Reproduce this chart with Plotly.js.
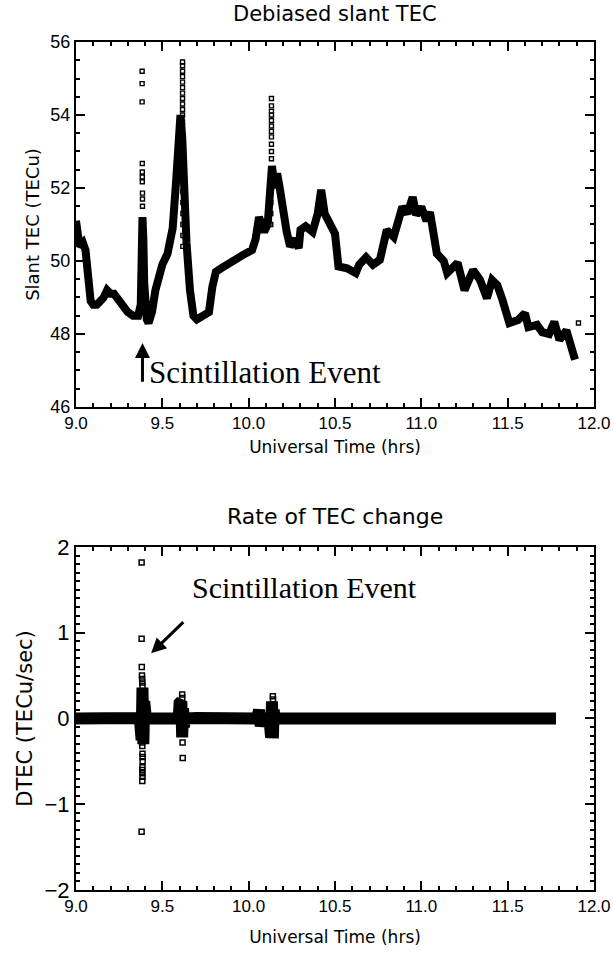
<!DOCTYPE html>
<html>
<head>
<meta charset="utf-8">
<script src="https://cdn.plot.ly/plotly-3.0.1.min.js"></script>
<style>html,body{margin:0;padding:0;background:#fff;}#chart{width:613px;height:955px;}</style>
</head>
<body>
<div id="chart"></div>
<script>
// ---- Debiased slant TEC (thick trace) ----
var tecT = [9.000,9.010,9.020,9.040,9.055,9.070,9.085,9.100,9.120,9.140,9.160,9.180,9.200,9.220,9.250,9.280,9.300,9.330,9.360,9.375,9.380,9.385,9.390,9.395,9.400,9.410,9.420,9.440,9.460,9.480,9.500,9.530,9.560,9.580,9.595,9.605,9.615,9.625,9.640,9.660,9.680,9.700,9.740,9.770,9.790,9.810,9.840,9.870,9.900,9.940,9.980,10.020,10.040,10.060,10.075,10.090,10.110,10.125,10.135,10.150,10.165,10.180,10.200,10.220,10.240,10.270,10.290,10.300,10.330,10.370,10.400,10.420,10.440,10.460,10.500,10.520,10.570,10.620,10.640,10.680,10.720,10.760,10.800,10.840,10.890,10.920,10.950,10.970,11.000,11.030,11.050,11.090,11.130,11.150,11.210,11.250,11.300,11.340,11.380,11.410,11.440,11.470,11.510,11.560,11.600,11.620,11.670,11.700,11.740,11.770,11.800,11.840,11.870,11.890];
var tecV = [51.1,50.6,50.4,50.5,50.3,49.6,48.9,48.8,48.8,48.9,49.0,49.2,49.1,49.1,48.9,48.7,48.6,48.5,48.5,48.8,50.2,51.2,50.6,49.4,48.9,48.4,48.3,48.6,49.2,49.6,49.9,50.2,50.9,52.2,53.6,54.0,53.4,51.8,50.5,49.2,48.5,48.4,48.5,48.6,49.3,49.7,49.8,49.9,50.0,50.1,50.2,50.3,50.6,51.2,51.0,50.8,51.0,52.0,52.6,52.0,52.4,52.0,51.3,50.8,50.4,50.6,50.35,50.85,50.95,50.8,51.3,51.95,51.3,51.1,50.75,49.85,49.8,49.67,49.9,50.1,49.9,50.03,50.85,50.66,51.48,51.3,51.75,51.26,51.48,51.1,51.34,50.2,50.0,49.67,49.95,49.2,49.75,49.48,48.98,49.48,49.34,48.93,48.3,48.38,48.57,48.19,48.25,48.05,48.0,48.33,47.84,48.1,47.64,47.3];
// ---- Debiased slant TEC (isolated square samples) ----
var tecSqT = [9.383,9.383,9.383,9.384,9.384,9.384,9.384,9.385,9.385,9.385,
  9.617,9.617,9.617,9.617,9.617,9.617,9.617,9.617,9.617,9.617,9.617,9.617,9.619,9.619,9.619,9.619,9.619,9.619,9.619,9.619,9.619,9.619,9.619,
  10.132,10.132,10.132,10.132,10.132,10.132,10.132,10.132,10.132,10.132,10.132,10.128,10.128,10.128,10.128,
  11.91];
var tecSqV = [55.2,54.86,54.36,52.67,52.44,52.3,52.17,51.86,51.7,51.5,
  55.45,55.35,55.2,55.05,54.9,54.75,54.6,54.45,54.3,54.15,54.0,53.8,53.4,53.1,52.8,52.5,52.2,51.9,51.6,51.3,51.0,50.7,50.4,
  54.45,54.25,54.1,54.0,53.85,53.7,53.55,53.4,53.2,53.0,52.8,51.9,51.6,51.3,51.0,
  48.3];

// ---- Rate of TEC change (thick band) ----
var dT = [9.00,9.05,9.10,9.15,9.20,9.25,9.30,9.35,9.370,9.375,9.380,9.385,9.390,9.395,9.400,9.405,9.45,9.50,9.55,9.595,9.600,9.605,9.610,9.615,9.620,9.625,9.630,9.70,9.80,9.90,10.00,10.05,10.060,10.070,10.080,10.12,10.125,10.130,10.135,10.140,10.145,10.150,10.30,10.50,10.70,10.80,10.85,10.90,11.10,11.30,11.50,11.78];
var dV = [0.0,0.005,-0.005,0.0,0.005,-0.005,0.0,0.005,0.0,0.3,-0.25,0.36,-0.3,0.2,-0.15,0.0,0.0,0.005,-0.005,0.0,0.18,-0.2,0.2,-0.22,0.12,-0.1,0.0,0.005,-0.005,0.0,0.005,0.0,0.1,-0.09,0.0,0.0,0.15,-0.22,0.2,-0.23,0.1,0.0,0.0,0.005,0.0,0.008,-0.008,0.0,0.0,0.0,0.0,0.0];
// ---- Rate of TEC change (isolated square samples) ----
var dSqT = [9.380,9.380,9.381,9.382,9.383,9.384,9.385,9.382,9.383,9.384,9.385,9.386,9.386,9.385,9.384,9.384,9.385,9.384,9.380,
  9.615,9.615,9.617,9.618,
  10.140,10.141];
var dSqV = [1.82,0.93,0.6,0.5,0.46,0.42,0.38,-0.23,-0.28,-0.32,-0.41,-0.45,-0.5,-0.57,-0.6,-0.64,-0.68,-0.73,-1.32,
  0.28,0.24,-0.28,-0.46,
  0.26,0.22];

var sans = 'Liberation Sans, Arial, sans-serif';
var wide = 'DejaVu Sans, Verdana, sans-serif';
var serif = 'Liberation Serif, Times New Roman, serif';

function xaxisCfg(anchor, fs, standoff){
  return {
    anchor: anchor, range: [9,12], dtick: 0.5, tick0: 9, tickformat: '.1f',
    ticks: 'inside', ticklen: 9, tickwidth: 2, tickcolor: '#000',
    minor: {dtick: 0.1, ticks: 'inside', ticklen: 4, tickwidth: 2, tickcolor: '#000', showgrid: false},
    showline: true, linecolor: '#000', linewidth: 2, mirror: 'ticks',
    showgrid: false, zeroline: false,
    tickfont: {family: sans, size: fs, color: '#000'},
    title: {text: 'Universal Time (hrs)', font: {family: wide, size: 17, color: '#000'}, standoff: standoff}
  };
}

var traces = [
  {x: tecT, y: tecV, xaxis: 'x', yaxis: 'y', mode: 'lines', line: {color: '#000', width: 8}, hoverinfo: 'skip'},
  {x: tecSqT, y: tecSqV, xaxis: 'x', yaxis: 'y', mode: 'markers', marker: {symbol: 'square-open', size: 4, color: '#000', line: {width: 1.4, color: '#000'}}},
  {x: dT, y: dV, xaxis: 'x2', yaxis: 'y2', mode: 'lines', line: {color: '#000', width: 12}},
  {x: dSqT, y: dSqV, xaxis: 'x2', yaxis: 'y2', mode: 'markers', marker: {symbol: 'square-open', size: 5, color: '#000', line: {width: 1.5, color: '#000'}}}
];

var layout = {
  width: 613, height: 955,
  paper_bgcolor: '#fff', plot_bgcolor: '#fff',
  showlegend: false,
  margin: {l: 76, r: 19, t: 42, b: 65},
  xaxis: xaxisCfg('y', 17, 9),
  yaxis: {
    domain: [0.5696, 1], anchor: 'x', range: [46,56], dtick: 2, tick0: 46,
    ticks: 'inside', ticklen: 9, tickwidth: 2, tickcolor: '#000',
    minor: {dtick: 0.5, ticks: 'inside', ticklen: 4, tickwidth: 2, tickcolor: '#000', showgrid: false},
    showline: true, linecolor: '#000', linewidth: 2, mirror: 'ticks',
    showgrid: false, zeroline: false,
    tickfont: {family: sans, size: 18, color: '#000'},
    title: {text: 'Slant TEC (TECu)', font: {family: wide, size: 18, color: '#000'}, standoff: 6}
  },
  xaxis2: xaxisCfg('y2', 17, 16),
  yaxis2: {
    domain: [0, 0.4045], anchor: 'x2', range: [-2,2], dtick: 1, tick0: -2,
    ticks: 'inside', ticklen: 9, tickwidth: 2, tickcolor: '#000',
    minor: {dtick: 0.1, ticks: 'inside', ticklen: 4, tickwidth: 2, tickcolor: '#000', showgrid: false},
    showline: true, linecolor: '#000', linewidth: 2, mirror: 'ticks',
    showgrid: false, zeroline: false,
    tickfont: {family: sans, size: 22, color: '#000'},
    title: {text: 'DTEC (TECu/sec)', font: {family: wide, size: 21, color: '#000'}, standoff: 6}
  },
  annotations: [
    {text: 'Debiased slant TEC', xref: 'paper', yref: 'paper', x: 0.5, y: 1.033, yanchor: 'middle', showarrow: false, font: {family: wide, size: 21, color: '#000'}},
    {text: 'Rate of TEC change', xref: 'paper', yref: 'paper', x: 0.5, y: 0.440, yanchor: 'middle', showarrow: false, font: {family: wide, size: 22, color: '#000'}},
    {text: '', xref: 'x', yref: 'y', x: 9.385, y: 47.75, axref: 'x', ayref: 'y', ax: 9.385, ay: 46.65, showarrow: true, arrowhead: 2, arrowsize: 1, arrowwidth: 3, arrowcolor: '#000'},
    {text: 'Scintillation Event', xref: 'x', yref: 'y', x: 9.41, y: 46.95, xanchor: 'left', yanchor: 'middle', showarrow: false, font: {family: serif, size: 31, color: '#000'}},
    {text: '', xref: 'x2', yref: 'y2', x: 9.435, y: 0.76, axref: 'x2', ayref: 'y2', ax: 9.63, ay: 1.14, showarrow: true, arrowhead: 2, arrowsize: 1, arrowwidth: 3, arrowcolor: '#000'},
    {text: 'Scintillation Event', xref: 'x2', yref: 'y2', x: 9.66, y: 1.53, xanchor: 'left', yanchor: 'middle', showarrow: false, font: {family: serif, size: 30, color: '#000'}}
  ]
};

Plotly.newPlot('chart', traces, layout, {displayModeBar: false, staticPlot: true});
</script>
</body>
</html>
